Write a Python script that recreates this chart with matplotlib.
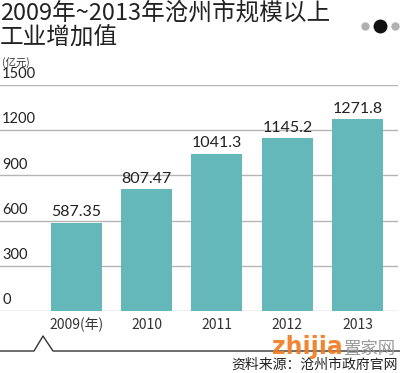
import matplotlib.pyplot as plt
from matplotlib.lines import Line2D

plt.rcParams['font.family'] = ['Noto Sans CJK SC', 'DejaVu Sans']

years = ['2009(年)', '2010', '2011', '2012', '2013']
values = [587.35, 807.47, 1041.3, 1145.2, 1271.8]
value_labels = ['587.35', '807.47', '1041.3', '1145.2', '1271.8']
y_ticks = [0, 300, 600, 900, 1200, 1500]

W, H = 400, 373
fig = plt.figure(figsize=(W / 100, H / 100), dpi=100)
fig.patch.set_facecolor('white')


def fx(px):
    return px / W


def fy(py):
    return 1 - py / H


ax = fig.add_axes([0, fy(311), fx(398), fy(85) - fy(311)])
x = list(range(len(years)))
ax.bar(x, values, width=0.725, color='#65b8ba', zorder=2)
ax.set_xlim(-1.08, 4.57)
ax.set_ylim(0, 1500)

for t in y_ticks:
    ax.axhline(t, color='#b5b5b5', lw=1, zorder=1)
    ax.text(-1.05, t + 25, str(t), fontsize=10.5, family=['Lato', 'DejaVu Sans'],
            color='#222222', ha='left', va='bottom')

for xi, v, lab in zip(x, values, value_labels):
    ax.text(xi, v + 25, lab, fontsize=11.5, family=['Lato', 'DejaVu Sans'],
            color='#222222', ha='center', va='bottom')

for xi, lab in zip(x, years):
    ax.text(xi, -95, lab, fontsize=10, color='#333333', ha='center', va='center')

ax.axis('off')

# title
fig.text(0, fy(13), '2009年~2013年沧州市规模以上', fontsize=17, fontweight='light',
         color='#222222', ha='left', va='center')
fig.text(0, fy(38), '工业增加值', fontsize=17, fontweight='light', color='#222222',
         ha='left', va='center')
fig.text(fx(2), fy(63), '(亿元)', fontsize=7.5, color='#333333', ha='left', va='center')

# page dots
for px, c, s in [(365, '#b0b0b0', 5), (380, '#111111', 9), (395, '#b0b0b0', 5)]:
    fig.add_artist(Line2D([fx(px)], [fy(26)], marker='o', markersize=s, color=c, ls='none'))

# bottom decoration line
fig.add_artist(Line2D([fx(0), fx(34), fx(43), fx(53), fx(400)],
                      [fy(351), fy(351), fy(336), fy(351), fy(351)],
                      color='#333333', lw=1))

# watermark and source
fig.text(fx(272), fy(347), 'zhijia', fontsize=17, fontweight='bold', color='#f07a1e',
         family=['DejaVu Sans'], ha='left', va='center', alpha=0.9)
fig.text(fx(343), fy(349), '置家网', fontsize=12.5, color='#9a9a9a', ha='left', va='center')
fig.text(fx(398), fy(365), '资料来源：沧州市政府官网', fontsize=10, color='#222222',
         ha='right', va='center')

fig.savefig('out.png', dpi=100)
